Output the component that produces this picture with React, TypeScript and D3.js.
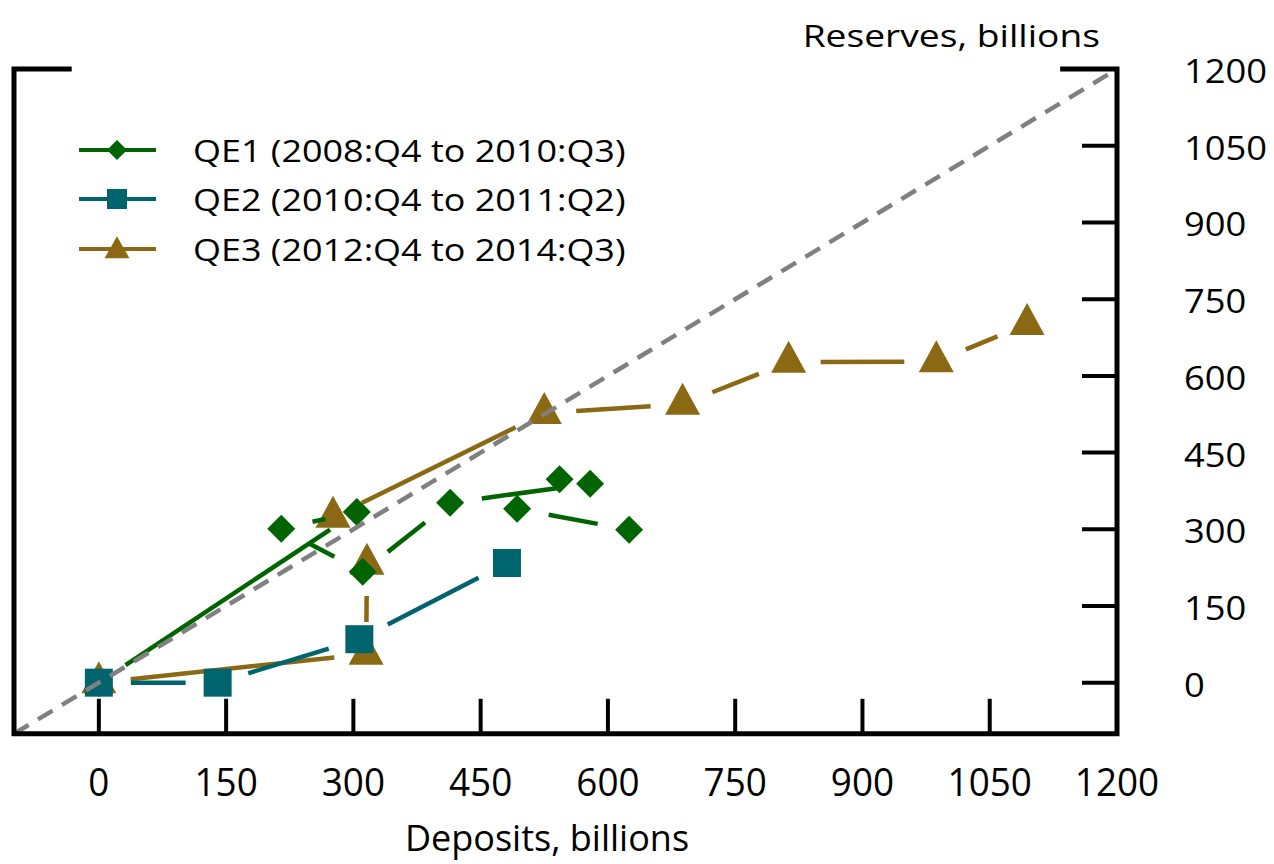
import React from "react";
import * as d3 from "d3";

// Cumulative changes since the start of each programme, billions of dollars
const qe1Deposits = [0, 304, 215, 311, 414, 579, 543, 493, 625];
const qe1Reserves = [0, 334, 301, 217, 352, 389, 398, 340, 299];
const qe2Deposits = [0, 140, 307, 481];
const qe2Reserves = [0, 0, 85, 234];
const qe3Deposits = [0, 315, 316, 276, 525, 688, 813, 987, 1094];
const qe3Reserves = [0, 56, 232, 324, 527, 545, 627, 628, 701];

const seriesNames = [
  "QE1 (2008:Q4 to 2010:Q3)",
  "QE2 (2010:Q4 to 2011:Q2)",
  "QE3 (2012:Q4 to 2014:Q3)",
];
const tickValues = [0, 150, 300, 450, 600, 750, 900, 1050, 1200];
const axisDomain = [-100, 1200];

const W = 1274;
const H = 864;
const FONT = "'Open Sans', 'Noto Sans', sans-serif";
const GREEN = "#006400";
const TEAL = "#00646e";
const GOLD = "#8b6914";
const GRAY = "#808080";

const x = d3.scaleLinear().domain(axisDomain).range([14, 1117]);
const y = d3.scaleLinear().domain(axisDomain).range([733.8, 69.1]);

type Shape = "diamond" | "square" | "triangle";

function markerPath(shape: Shape, cx: number, cy: number, s: number, th = 0): string {
  if (shape === "diamond") {
    const r = s / 2;
    return `M${cx},${cy - r}L${cx + r},${cy}L${cx},${cy + r}L${cx - r},${cy}Z`;
  }
  if (shape === "square") {
    const r = s / 2;
    return `M${cx - r},${cy - r}H${cx + r}V${cy + r}H${cx - r}Z`;
  }
  // triangle placed by its centroid
  const h = th;
  const top = cy - (2 * h) / 3;
  const base = cy + h / 3;
  return `M${cx},${top}L${cx + s / 2},${base}L${cx - s / 2},${base}Z`;
}

// Segments between consecutive points, pulled back from each marker
function trimmedSegments(xs: number[], ys: number[], gap: number) {
  const out: { x1: number; y1: number; x2: number; y2: number }[] = [];
  for (let i = 0; i < xs.length - 1; i++) {
    const ax = x(xs[i]), ay = y(ys[i]);
    const bx = x(xs[i + 1]), by = y(ys[i + 1]);
    const len = Math.hypot(bx - ax, by - ay);
    if (len <= 2 * gap) continue;
    const ux = (bx - ax) / len, uy = (by - ay) / len;
    out.push({ x1: ax + ux * gap, y1: ay + uy * gap, x2: bx - ux * gap, y2: by - uy * gap });
  }
  return out;
}

const Txt = ({ x: tx, y: ty, sx = 1, size, anchor = "start", children }: any) => (
  <text
    transform={`translate(${tx},${ty}) scale(${sx},1)`}
    fontSize={size}
    textAnchor={anchor}
    fontFamily={FONT}
    fill="#000"
  >
    {children}
  </text>
);

function Series({ xs, ys, color, shape }: { xs: number[]; ys: number[]; color: string; shape: Shape }) {
  const segs = trimmedSegments(xs, ys, 32);
  return (
    <g>
      {segs.map((s, i) => (
        <line key={i} {...s} stroke={color} strokeWidth={4.5} />
      ))}
      {xs.map((d, i) => (
        <path
          key={i}
          d={
            shape === "triangle"
              ? markerPath(shape, x(d), y(ys[i]), 35, 32)
              : markerPath(shape, x(d), y(ys[i]), 28)
          }
          fill={color}
        />
      ))}
    </g>
  );
}

export default function App() {
  const innerTicks = tickValues.filter((t) => t < 1200);
  const legendRows = [
    { name: seriesNames[0], color: GREEN, shape: "diamond" as Shape, ly: 150 },
    { name: seriesNames[1], color: TEAL, shape: "square" as Shape, ly: 199 },
    { name: seriesNames[2], color: GOLD, shape: "triangle" as Shape, ly: 249 },
  ];
  const frame = `M${x(-32)},${y(1200)}H${x(-100)}V${y(-100)}H${x(1200)}V${y(1200)}H${x(1133)}`;

  return (
    <svg
      width={W}
      height={H}
      style={{ position: "absolute", left: 0, top: 0, background: "#fff" }}
    >
      <rect width={W} height={H} fill="#fff" />

      <Series xs={qe3Deposits} ys={qe3Reserves} color={GOLD} shape="triangle" />
      <Series xs={qe1Deposits} ys={qe1Reserves} color={GREEN} shape="diamond" />
      <Series xs={qe2Deposits} ys={qe2Reserves} color={TEAL} shape="square" />

      {/* 45-degree reference line */}
      <line
        x1={x(-100)}
        y1={y(-100)}
        x2={x(1200)}
        y2={y(1200)}
        stroke={GRAY}
        strokeWidth={4.5}
        strokeDasharray="17 11"
      />

      {/* frame and ticks */}
      <path d={frame} fill="none" stroke="#000" strokeWidth={5} strokeLinejoin="miter" />
      {innerTicks.map((t) => (
        <line key={"xt" + t} x1={x(t)} x2={x(t)} y1={y(-100)} y2={y(-100) - 35} stroke="#000" strokeWidth={4} />
      ))}
      {innerTicks.map((t) => (
        <line key={"yt" + t} x1={x(1200)} x2={x(1200) - 35} y1={y(t)} y2={y(t)} stroke="#000" strokeWidth={4} />
      ))}

      {/* tick labels */}
      {tickValues.map((t) => (
        <Txt key={"xl" + t} x={x(t)} y={796} size={38} sx={0.97} anchor="middle">
          {t}
        </Txt>
      ))}
      {tickValues.map((t) => (
        <Txt key={"yl" + t} x={1184} y={y(t) + 14} size={33} sx={1.1}>
          {t}
        </Txt>
      ))}

      <Txt x={1100} y={47} size={31} sx={1.2} anchor="end">
        Reserves, billions
      </Txt>
      <Txt x={547} y={851} size={36} sx={1.0} anchor="middle">
        Deposits, billions
      </Txt>

      {/* legend */}
      {legendRows.map((r) => (
        <g key={r.name}>
          <line x1={79} x2={156} y1={r.ly} y2={r.ly} stroke={r.color} strokeWidth={4} />
          <path
            d={
              r.shape === "triangle"
                ? markerPath(r.shape, 117, r.ly + 2, 25, 22)
                : markerPath(r.shape, 117, r.ly, 20)
            }
            fill={r.color}
          />
          <Txt x={193} y={r.ly + 12} size={31} sx={1.16}>
            {r.name}
          </Txt>
        </g>
      ))}
    </svg>
  );
}
